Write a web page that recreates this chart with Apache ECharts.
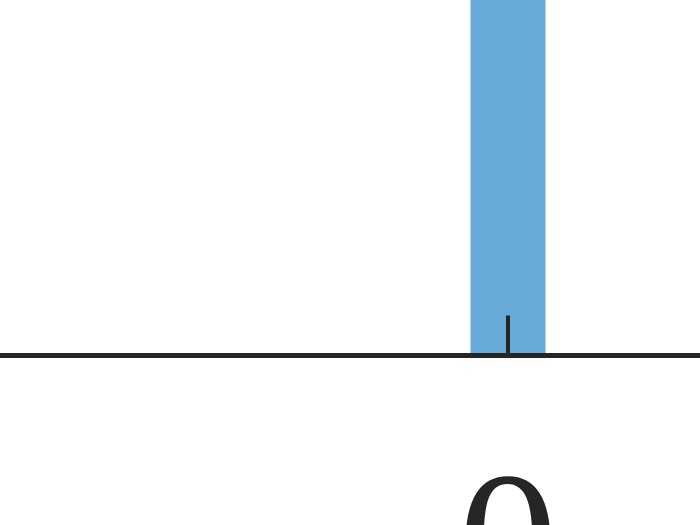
<!DOCTYPE html>
<html><head><meta charset="utf-8">
<script src="https://cdn.jsdelivr.net/npm/echarts@6/dist/echarts.min.js"></script>
<style>html,body{margin:0;padding:0;background:#fff}#c{width:700px;height:525px}</style>
</head><body><div id="c"></div>
<script>
const binCenters = [0];
const binCounts = [1];
const tickValues = [0];
const tickLabels = ['0'];

const chart = echarts.init(document.getElementById('c'), null, {renderer:'canvas'});
chart.setOption({
  animation:false,
  backgroundColor:'#ffffff',
  grid:{left:0,right:0,top:0,bottom:169.5,containLabel:false,outerBoundsMode:'none'},
  xAxis:{
    type:'value', min:-6.773, max:2.56, z:5,
    axisLine:{show:true,onZero:false,lineStyle:{color:'#262626',width:5}},
    axisTick:{show:true,inside:true,length:40,customValues:tickValues,lineStyle:{color:'#262626',width:4}},
    axisLabel:{show:true,customValues:tickValues,formatter:v=>tickLabels[tickValues.indexOf(v)] ?? '',
      fontFamily:'Liberation Serif',fontSize:200,color:'#262626',margin:101},
    splitLine:{show:false}
  },
  yAxis:{type:'value',min:0,max:1,show:false,splitLine:{show:false}},
  series:[{type:'bar',barWidth:75,z:1,
    data:binCenters.map((c,i)=>[c,binCounts[i]]),
    itemStyle:{color:'#67abda'}}]
});
</script></body></html>
